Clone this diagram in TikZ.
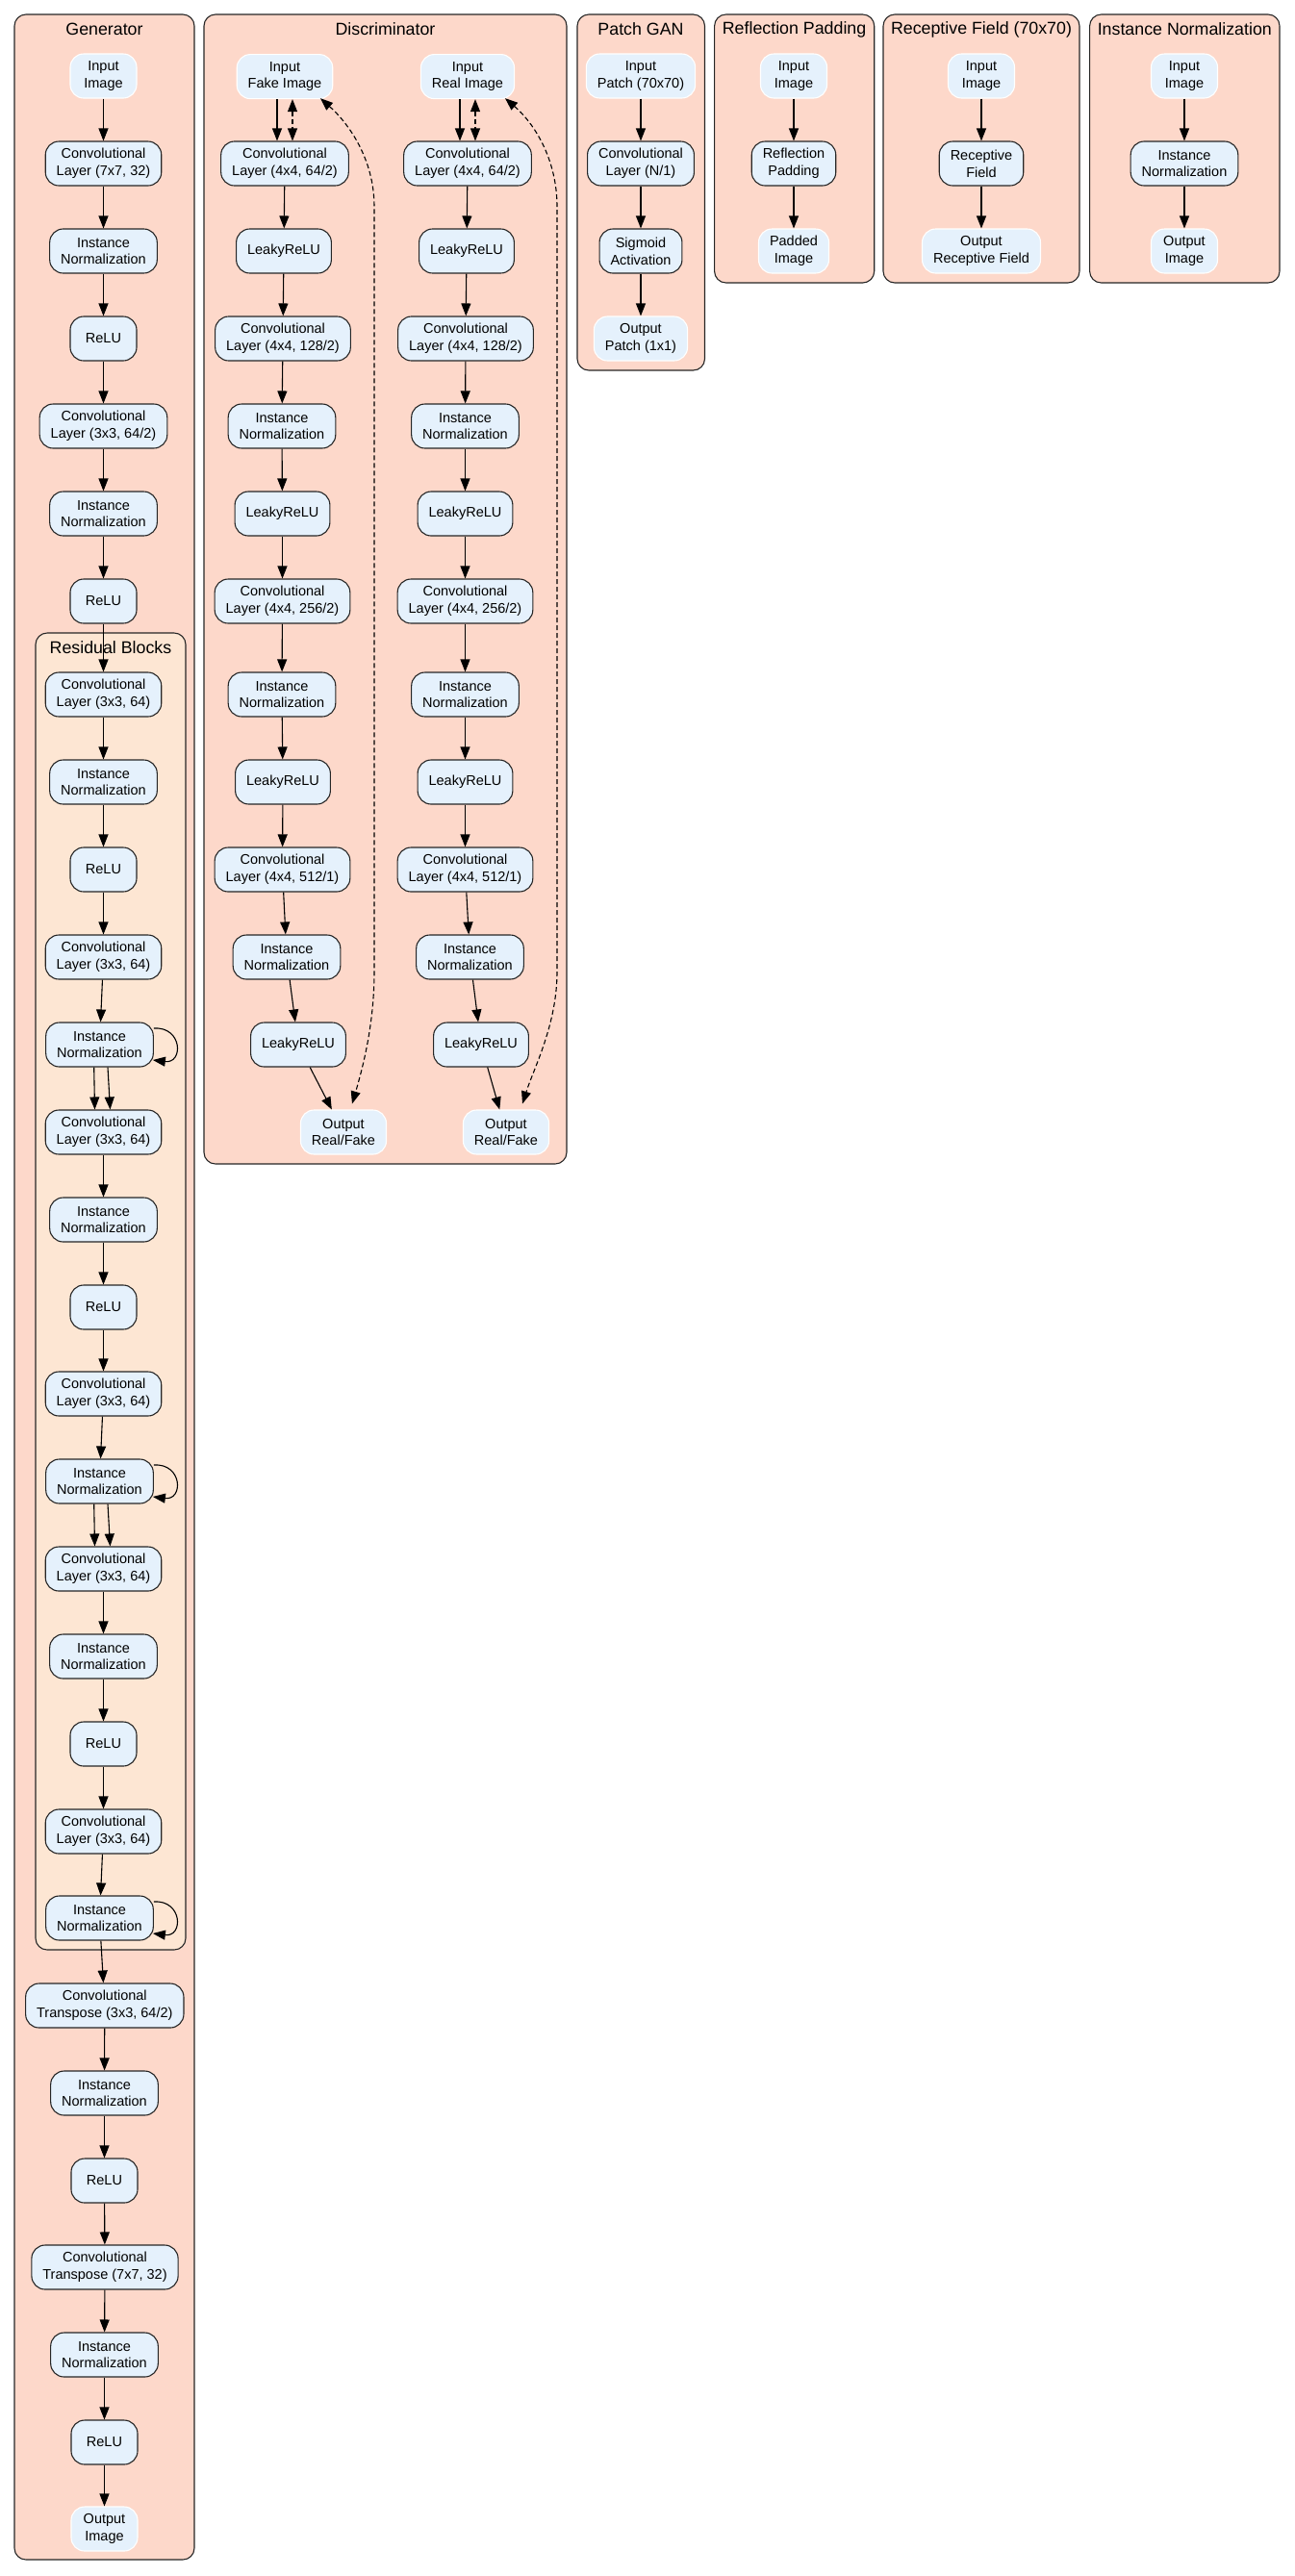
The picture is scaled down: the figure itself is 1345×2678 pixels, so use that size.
\documentclass[tikz,border=0pt]{standalone}
\usepackage{fontspec}
\setmainfont{Liberation Sans}
\usetikzlibrary{arrows.meta}
\definecolor{clusterfill}{HTML}{FDD8CA}
\definecolor{resfill}{HTML}{FDE6D3}
\definecolor{nodefill}{HTML}{E5F1FC}
\definecolor{bordercol}{HTML}{262626}
\begin{document}
\begin{tikzpicture}[x=1pt,y=-1pt,
  box/.style={draw=bordercol, line width=1.1pt, fill=nodefill, rounded corners=14pt, align=center,
    minimum width=69pt, minimum height=46pt, inner xsep=11.5pt, inner ysep=2pt,
    font=\fontsize{14.5}{17.8}\selectfont},
  io/.style={box, draw=white},
  cluster/.style={draw=bordercol, line width=1.1pt, fill=clusterfill, rounded corners=12pt},
  rescluster/.style={cluster, fill=resfill},
  ctitle/.style={font=\fontsize{17.8}{21}\selectfont, inner sep=0pt},
  arr/.style={-{Triangle[length=13pt,width=10pt]}, line width=1.1pt},
  darr/.style={{Triangle[length=13pt,width=10pt]}-{Triangle[length=13pt,width=10pt]}, line width=1.1pt, dash pattern=on 5pt off 3pt}
]
\path[use as bounding box] (0,0) rectangle (1345,2678);

% ---------- clusters ----------
\draw[cluster] (15,15) rectangle (202,2661);
\node[ctitle] (tgen) at (108.5,30) {Generator};
\draw[rescluster] (37,658) rectangle (193,2027);
\node[ctitle] (tres) at (115,673) {Residual Blocks};

\draw[cluster] (212,15) rectangle (589,1210);
\node[ctitle] (tdis) at (400.5,30) {Discriminator};

\draw[cluster] (600,15) rectangle (732.5,385);
\node[ctitle] (tpg) at (666,30.5) {Patch GAN};

\draw[cluster] (742.6,15) rectangle (908.7,294);
\node[ctitle] (trp) at (825.6,30.5) {Reflection Padding};

\draw[cluster] (918,15) rectangle (1122,294);
\node[ctitle] (trf) at (1020,30.5) {Receptive Field (70x70)};

\draw[cluster] (1132.6,15) rectangle (1330,294);
\node[ctitle] (tin) at (1231.3,30.5) {Instance Normalization};

% ---------- generator ----------
\node[io]  (g1) at (107.5,79)  {Input\\Image};
\node[box] (g2) at (107.5,170) {Convolutional\\Layer (7x7, 32)};
\node[box] (g3) at (107.5,261) {Instance\\Normalization};
\node[box] (g4) at (107.5,352) {ReLU};
\node[box] (g5) at (107.5,443) {Convolutional\\Layer (3x3, 64/2)};
\node[box] (g6) at (107.5,534) {Instance\\Normalization};
\node[box] (g7) at (107.5,625) {ReLU};

\node[box] (r1)  at (107.5,722)  {Convolutional\\Layer (3x3, 64)};
\node[box] (r2)  at (107.5,813)  {Instance\\Normalization};
\node[box] (r3)  at (107.5,904)  {ReLU};
\node[box] (r4)  at (107.5,995)  {Convolutional\\Layer (3x3, 64)};
\node[box] (r5)  at (103.5,1086) {Instance\\Normalization};
\node[box] (r6)  at (107.5,1177) {Convolutional\\Layer (3x3, 64)};
\node[box] (r7)  at (107.5,1268) {Instance\\Normalization};
\node[box] (r8)  at (107.5,1359) {ReLU};
\node[box] (r9)  at (107.5,1449) {Convolutional\\Layer (3x3, 64)};
\node[box] (r10) at (103.5,1540) {Instance\\Normalization};
\node[box] (r11) at (107.5,1631) {Convolutional\\Layer (3x3, 64)};
\node[box] (r12) at (107.5,1722) {Instance\\Normalization};
\node[box] (r13) at (107.5,1813) {ReLU};
\node[box] (r14) at (107.5,1904) {Convolutional\\Layer (3x3, 64)};
\node[box] (r15) at (103.5,1994) {Instance\\Normalization};

\node[box] (g8)  at (108.8,2085) {Convolutional\\Transpose (3x3, 64/2)};
\node[box] (g9)  at (108.5,2176) {Instance\\Normalization};
\node[box] (g10) at (108.5,2267) {ReLU};
\node[box] (g11) at (109,2357)   {Convolutional\\Transpose (7x7, 32)};
\node[box] (g12) at (108.5,2448) {Instance\\Normalization};
\node[box] (g13) at (108.5,2539) {ReLU};
\node[io]  (g14) at (108.5,2629) {Output\\Image};

% ---------- discriminator: fake ----------
\node[io]  (f1)  at (296,79.6) {Input\\Fake Image};
\node[box] (f2)  at (296,170)  {Convolutional\\Layer (4x4, 64/2)};
\node[box] (f3)  at (295,261)  {LeakyReLU};
\node[box] (f4)  at (294,352)  {Convolutional\\Layer (4x4, 128/2)};
\node[box] (f5)  at (293,443)  {Instance\\Normalization};
\node[box] (f6)  at (293.5,534) {LeakyReLU};
\node[box] (f7)  at (293.5,625) {Convolutional\\Layer (4x4, 256/2)};
\node[box] (f8)  at (293,722)  {Instance\\Normalization};
\node[box] (f9)  at (294,813)  {LeakyReLU};
\node[box] (f10) at (293.5,904) {Convolutional\\Layer (4x4, 512/1)};
\node[box] (f11) at (298,995)  {Instance\\Normalization};
\node[box] (f12) at (310,1086) {LeakyReLU};
\node[io]  (f13) at (357,1177) {Output\\Real/Fake};

% ---------- discriminator: real ----------
\node[io]  (e1)  at (486,79.6) {Input\\Real Image};
\node[box] (e2)  at (486,170)  {Convolutional\\Layer (4x4, 64/2)};
\node[box] (e3)  at (485,261)  {LeakyReLU};
\node[box] (e4)  at (484,352)  {Convolutional\\Layer (4x4, 128/2)};
\node[box] (e5)  at (483.5,443) {Instance\\Normalization};
\node[box] (e6)  at (483.5,534) {LeakyReLU};
\node[box] (e7)  at (483.5,625) {Convolutional\\Layer (4x4, 256/2)};
\node[box] (e8)  at (483.5,722) {Instance\\Normalization};
\node[box] (e9)  at (483.5,813) {LeakyReLU};
\node[box] (e10) at (483.5,904) {Convolutional\\Layer (4x4, 512/1)};
\node[box] (e11) at (488.5,995) {Instance\\Normalization};
\node[box] (e12) at (500,1086) {LeakyReLU};
\node[io]  (e13) at (526,1177) {Output\\Real/Fake};

% ---------- patch GAN ----------
\node[io]  (p1) at (666,79)  {Input\\Patch (70x70)};
\node[box] (p2) at (666,170) {Convolutional\\Layer (N/1)};
\node[box] (p3) at (666,261) {Sigmoid\\Activation};
\node[io]  (p4) at (666,352) {Output\\Patch (1x1)};

% ---------- reflection padding ----------
\node[io]  (q1) at (825,79)  {Input\\Image};
\node[box] (q2) at (825,170) {Reflection\\Padding};
\node[io]  (q3) at (825,261) {Padded\\Image};

% ---------- receptive field ----------
\node[io]  (s1) at (1020,79)  {Input\\Image};
\node[box] (s2) at (1020,170) {Receptive\\Field};
\node[io]  (s3) at (1020,261) {Output\\Receptive Field};

% ---------- instance normalization ----------
\node[io]  (t1) at (1231,79)  {Input\\Image};
\node[box] (t2) at (1231,170) {Instance\\Normalization};
\node[io]  (t3) at (1231,261) {Output\\Image};

% ---------- generator edges ----------
\foreach \a/\b in {g1/g2,g2/g3,g3/g4,g4/g5,g5/g6,g6/g7,g7/r1,r1/r2,r2/r3,r3/r4,r4/r5,
  r6/r7,r7/r8,r8/r9,r9/r10,r11/r12,r12/r13,r13/r14,r14/r15,r15/g8,
  g8/g9,g9/g10,g10/g11,g11/g12,g12/g13,g13/g14}
  \draw[arr] (\a) -- (\b);
\foreach \a/\b in {r5/r6,r10/r11}{
  \draw[arr] ([xshift=-5.8pt]\a.south) -- ([xshift=-9pt]\b.north);
  \draw[arr] ([xshift=8.5pt]\a.south) -- ([xshift=7pt]\b.north);
}
\foreach \a in {r5,r10,r15}
  \draw[arr] ([yshift=17pt]\a.east) .. controls +(30,-2) and +(32,4) .. ([yshift=-16pt,xshift=-1pt]\a.east);

% ---------- discriminator edges ----------
\draw[arr] ([xshift=-8pt]f1.south) -- ([xshift=-8pt]f2.north);
\draw[darr] ([xshift=8pt]f1.south) -- ([xshift=8pt]f2.north);
\draw[arr] ([xshift=-8pt]e1.south) -- ([xshift=-8pt]e2.north);
\draw[darr] ([xshift=8pt]e1.south) -- ([xshift=8pt]e2.north);
\foreach \p in {f,e}{
  \foreach \i/\j in {2/3,3/4,4/5,5/6,6/7,7/8,8/9,9/10,10/11,11/12,12/13}
    \draw[arr] (\p\i) -- (\p\j);
}
\draw[darr] ([xshift=37pt,yshift=1pt]f1.south) .. controls (362,128) and (389,165) .. (389,215)
  -- (389,1010) .. controls (389,1065) and (377,1110) .. ([xshift=9pt,yshift=6pt]f13.north);
\draw[darr] ([xshift=39pt,yshift=1pt]e1.south) .. controls (555,128) and (579,165) .. (579,215)
  -- (579,1010) .. controls (579,1065) and (555,1110) .. ([xshift=17pt,yshift=6pt]e13.north);

% ---------- small cluster edges ----------
\foreach \a/\b in {p1/p2,p2/p3,p3/p4,q1/q2,q2/q3,s1/s2,s2/s3,t1/t2,t2/t3}
  \draw[arr] (\a) -- (\b);
\end{tikzpicture}
\end{document}
